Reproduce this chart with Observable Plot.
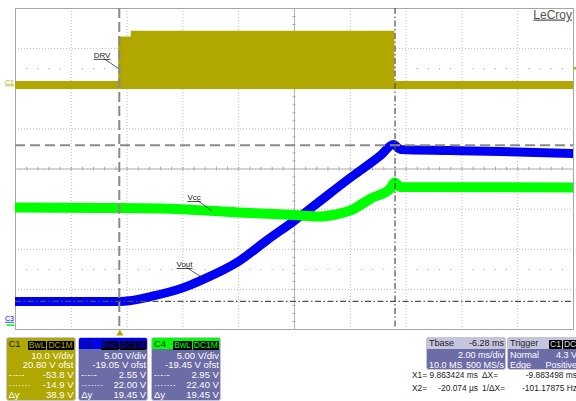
<!DOCTYPE html>
<html>
<head>
<meta charset="utf-8">
<script src="https://cdn.jsdelivr.net/npm/d3@7"></script>
<script src="https://cdn.jsdelivr.net/npm/@observablehq/plot@0.6"></script>
<style>
  body { margin: 0; background: #fff; }
  #scope { position: relative; width: 576px; height: 401px; overflow: hidden;
           font-family: "Liberation Sans", Arial, sans-serif; background: #fff; }
  #scope svg { position: absolute; left: 0; top: 0; }
  #scope svg text { text-decoration: underline; }
  .panel { position: absolute; top: 337px; box-sizing: border-box; border: 1px solid #c6c6d6;
           border-radius: 3px; overflow: hidden; color: #fff; font-size: 9.5px; }
  .panel.info { font-size: 9px; }
  .head { position: absolute; left: 0; right: 0; top: 0; height: 11px; line-height: 11px; }
  .head .name { position: absolute; left: 2px; color: #1c1c1c; }
  .head .badges { position: absolute; right: 1px; top: 1px; white-space: nowrap; }
  .badge { display: inline-block; background: #000; margin-left: 1px; padding: 0 1px;
           border-radius: 1px; font-size: 8.5px; line-height: 9px; }
  .row { position: absolute; left: 2px; right: 1px; height: 10px; line-height: 10px; white-space: nowrap; }
  .row .r { position: absolute; right: 0; }
  .meas { position: absolute; font-size: 8.4px; color: #222; white-space: nowrap; line-height: 11px; }
</style>
</head>
<body>
<div id="scope"></div>
<script>
// ---- acquisition settings ----
const channels = ["C1", "C3", "C4"];
const vPerDiv = [10.0, 5.00, 5.00];          // V/div
const offsets = [20.80, -19.05, -19.45];      // V ofst
const msPerDiv = 2.00;                        // time base
const tStart = -3.74;                         // ms at left edge (trigger at 0)

// ---- C1: DRV switching envelope (V) ----
const drvTime = [-3.74, -0.04, -0.04, 0.41, 0.41, 9.86, 9.86, 16.26];
const drvHigh = [1.0, 1.0, 12.1, 12.1, 13.5, 13.5, 1.0, 1.0];
const drvLow  = [-1.0, -1.0, -1.0, -1.0, -1.0, -1.0, -1.0, -1.0];

// ---- C3: Vout (V) ----
const voutTime = [-3.74, 0.02, 0.38, 1.10, 2.28, 2.89, 4.25, 5.26, 6.26, 6.83, 8.27, 9.34, 9.81, 10.06, 11.85, 13.64, 16.26];
const voutVolt = [2.53, 2.53, 2.65, 3.15, 4.27, 5.15, 7.52, 10.14, 12.63, 14.13, 17.99, 20.73, 22.10, 21.48, 21.36, 21.23, 20.98];

// ---- C4: Vcc (V) ----
const vccTime = [-3.74, -0.69, 1.46, 4.25, 6.26, 7.19, 7.73, 8.27, 8.99, 9.70, 9.84, 10.06, 16.26];
const vccVolt = [14.65, 14.59, 14.53, 14.03, 13.71, 13.53, 13.78, 14.28, 15.77, 17.02, 17.77, 17.21, 17.14];

// ---- cursors ----
const xCursors = [9.863424, -0.020074];       // X1, X2 (ms)
const yCursorsC3 = [2.55, 22.00];             // C3 levels (V)
const trigLevelC1 = 4.3;                      // V

// ---- trace labels: text, channel, leader start (t, V), leader end (t, V) ----
const labelText = ["DRV", "Vcc", "Vout"];
const labelChan = [0, 2, 1];
const labelT1 = [-0.58, 2.78, 2.39];
const labelV1 = [6.76, 15.52, 6.77];
const labelT2 = [-0.05, 3.29, 2.96];
const labelV2 = [4.26, 14.28, 5.52];

// ---- channel box readouts ----
const cursorA = [-53.8, 2.55, 2.95];
const cursorB = [-14.9, 22.00, 22.40];
const deltaY  = [38.9, 19.45, 19.45];
const decimals = [1, 2, 2];
const traceColor = ["#b0a700", "#0000f2", "#00ff00"];

// ---- helpers ----
const toDiv = (ch, v) => (v + offsets[ch]) / vPerDiv[ch];
const tEnd = tStart + 10 * msPerDiv;
const tMid = tStart + 5 * msPerDiv;

const drv  = drvTime.map((t, i) => ({t, lo: toDiv(0, drvLow[i]), hi: toDiv(0, drvHigh[i])}));
const vout = voutTime.map((t, i) => ({t, y: toDiv(1, voutVolt[i])}));
const vcc  = vccTime.map((t, i) => ({t, y: toDiv(2, vccVolt[i])}));
const labels = labelText.map((s, i) => ({
  s, ch: labelChan[i],
  x1: labelT1[i], y1: toDiv(labelChan[i], labelV1[i]),
  x2: labelT2[i], y2: toDiv(labelChan[i], labelV2[i])
}));

const gridX = d3.range(11).map(k => tStart + k * msPerDiv);
const gridY = d3.range(-4, 5);
const minorX = d3.range(51).map(k => tStart + k * msPerDiv / 5);
const minorY = d3.range(-20, 21).map(k => k / 5);
const dotRows = [];
d3.range(1, 50).filter(k => k % 5 !== 0).forEach(k => {
  dotRows.push({t: tStart + k * msPerDiv / 5, y: 2.5});
  dotRows.push({t: tStart + k * msPerDiv / 5, y: -2.5});
});
// ground markers: C1 and C3 as labels, C4 as a short bar just under C3
const groundLabels = [
  {ch: 1, name: "C3", y: toDiv(1, 0)},
  {ch: 0, name: "C1", y: toDiv(0, 0)}
];

const dashDot = "6,2.5,1.5,2.5";

const plot = Plot.plot({
  width: 576,
  height: 337,
  marginLeft: 15,
  marginRight: 3,
  marginTop: 8,
  marginBottom: 8,
  x: {domain: [tStart, tEnd], axis: null},
  y: {domain: [-4, 4], axis: null},
  style: {background: "transparent", fontFamily: "'Liberation Sans', Arial, sans-serif"},
  marks: [
    // graticule
    Plot.ruleX(gridX, {stroke: "#bdbdbd", strokeDasharray: "1,2"}),
    Plot.ruleY(gridY, {stroke: "#bdbdbd", strokeDasharray: "1,2"}),
    Plot.ruleX([tMid], {stroke: "#b4b4b4"}),
    Plot.ruleY([0], {stroke: "#b4b4b4"}),
    Plot.ruleX(minorX, {x: d => d, y1: -0.045, y2: 0.045, stroke: "#a8a8a8"}),
    Plot.ruleY(minorY, {y: d => d, x1: tMid - 0.055, x2: tMid + 0.055, stroke: "#a8a8a8"}),
    Plot.dot(dotRows, {x: "t", y: "y", r: 0.6, fill: "#a0a0a0", stroke: null}),
    Plot.frame({stroke: "#a6a6a6"}),

    // traces
    Plot.areaY(drv, {x: "t", y1: "lo", y2: "hi", fill: traceColor[0], clip: true}),
    Plot.line(vout, {x: "t", y: "y", stroke: traceColor[1], strokeWidth: 9, curve: "monotone-x", clip: true}),
    Plot.line(vcc, {x: "t", y: "y", stroke: traceColor[2], strokeWidth: 10, curve: "monotone-x", clip: true}),

    // cursors
    Plot.ruleX([xCursors[1]], {stroke: "#8a8a8a", strokeWidth: 2, strokeDasharray: "10,4"}),
    Plot.ruleY([toDiv(1, yCursorsC3[1])], {stroke: "#8a8a8a", strokeWidth: 2, strokeDasharray: "10,5"}),
    Plot.ruleX([xCursors[0]], {stroke: "#505050", strokeWidth: 1.2, strokeDasharray: dashDot}),
    Plot.ruleY([toDiv(1, yCursorsC3[0])], {stroke: "#505050", strokeWidth: 1.2, strokeDasharray: dashDot}),

    // trigger position and level markers
    Plot.dot([0], {x: d => d, y: -4, dy: 4, symbol: "triangle", r: 2.6, fill: traceColor[0], stroke: null}),
    Plot.dot([trigLevelC1], {x: tEnd, y: d => toDiv(0, d), dx: 1.5, r: 1.3, fill: traceColor[0], stroke: null}),

    // trace labels with leaders
    Plot.link(labels, {x1: "x1", y1: "y1", x2: "x2", y2: "y2", stroke: "#333", strokeWidth: 0.8}),
    Plot.text(labels, {x: "x1", y: "y1", text: "s", textAnchor: "start", lineAnchor: "bottom",
                       dx: -10, dy: -0.5, fontSize: 8, fill: "#222"}),

    // channel ground markers
    Plot.text(groundLabels, {x: tStart, y: "y", text: "name", textAnchor: "end", lineAnchor: "bottom",
                             dx: -1.5, dy: -1, fontSize: 7, fill: d => traceColor[d.ch]}),
    Plot.link([toDiv(2, 0)], {x1: tStart, x2: tStart, y1: d => d, y2: d => d,
                              stroke: traceColor[2], strokeWidth: 1.5,
                              render: (index, scales, values, dims, ctx, next) => {
                                const g = next(index, scales, values, dims, ctx);
                                d3.select(g).selectAll("path").attr("d", (_, j) => {
                                  const y = values.y1[index[j]];
                                  return `M${dims.marginLeft - 9},${y}H${dims.marginLeft - 1}`;
                                });
                                return g;
                              }}),

    // brand
    Plot.text(["LeCroy"], {frameAnchor: "top-right", text: d => d, dx: -1.5, dy: 1.5,
                           lineAnchor: "top", fontSize: 12, fill: "#555"})
  ]
});

const scope = d3.select("#scope");
scope.node().appendChild(plot);

// ---- channel boxes ----
const bodyBg = ["#b0a700", "#6c6ca6", "#6c6ca6"];
const headBg = ["#b0a700", "#0000f2", "#00ff00"];
channels.forEach((ch, i) => {
  const p = scope.append("div").attr("class", "panel")
    .style("left", `${5.5 + i * 72.7}px`).style("width", "70px").style("height", "64px")
    .style("background", bodyBg[i]);
  const head = p.append("div").attr("class", "head").style("background", headBg[i]);
  head.append("span").attr("class", "name").text(ch);
  const badges = head.append("span").attr("class", "badges");
  ["BwL", "DC1M"].forEach(b => badges.append("span").attr("class", "badge")
    .style("color", traceColor[i]).text(b));
  const d = decimals[i];
  const rows = [
    ["", `${vPerDiv[i].toFixed(d === 1 ? 1 : 2)} V/div`],
    ["", `${offsets[i].toFixed(2)} V ofst`],
    ["-·-·-", `${cursorA[i].toFixed(d)} V`],
    ["·······", `${cursorB[i].toFixed(d)} V`],
    ["Δy", `${deltaY[i].toFixed(d)} V`]
  ];
  rows.forEach(([l, r], k) => {
    const row = p.append("div").attr("class", "row").style("top", `${12.5 + k * 9.8}px`);
    row.append("span").text(l);
    row.append("span").attr("class", "r").text(r);
  });
});

// ---- timebase and trigger boxes ----
function infoBox(left, width, header, headerRight, rows) {
  const p = scope.append("div").attr("class", "panel info")
    .style("left", `${left}px`).style("width", `${width}px`).style("height", "33px")
    .style("background", "#6c6ca6");
  const head = p.append("div").attr("class", "head").style("background", "#c4c4dc");
  head.append("span").attr("class", "name").text(header);
  headerRight(head);
  rows.forEach(([l, r], k) => {
    const row = p.append("div").attr("class", "row").style("top", `${12 + k * 9.5}px`);
    row.append("span").text(l);
    row.append("span").attr("class", "r").text(r);
  });
}
infoBox(426, 80, "Tbase", head => head.append("span").attr("class", "badges")
  .style("top", "0px").style("color", "#1c1c1c").text("-6.28 ms"),
  [["", "2.00 ms/div"], ["10.0 MS", "500 MS/s"]]);
infoBox(507, 72, "Trigger", head => {
  const b = head.append("span").attr("class", "badges").style("right", "auto").style("left", "40px");
  ["C1", "DC"].forEach(s => b.append("span").attr("class", "badge").style("color", "#ddd").text(s));
}, [["Normal", "4.3 V"], ["Edge", "Positive"]]);

// ---- cursor measurements ----
const measRows = [
  ["X1=", "9.863424 ms", "ΔX=", "-9.883498 ms"],
  ["X2=", "-20.074 µs", "1/ΔX=", "-101.17875 Hz"]
];
measRows.forEach((r, k) => {
  const top = 370 + k * 13;
  scope.append("div").attr("class", "meas").style("left", "412px").style("top", `${top}px`).text(r[0]);
  scope.append("div").attr("class", "meas").style("right", `${576 - 478}px`).style("top", `${top}px`).text(r[1]);
  scope.append("div").attr("class", "meas").style("left", "482px").style("top", `${top}px`).text(r[2]);
  scope.append("div").attr("class", "meas").style("right", "-1px").style("top", `${top}px`).text(r[3]);
});
</script>
</body>
</html>
